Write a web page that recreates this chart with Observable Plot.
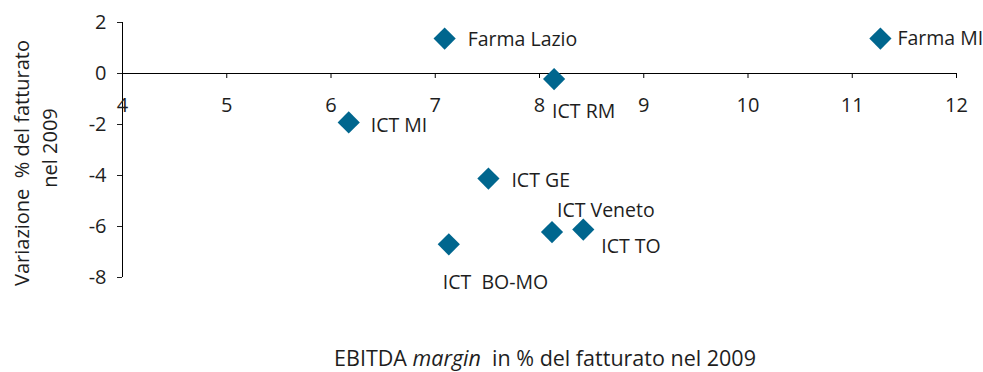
<!DOCTYPE html>
<html>
<head>
<meta charset="utf-8">
<script src="https://cdn.jsdelivr.net/npm/d3@7"></script>
<script src="https://cdn.jsdelivr.net/npm/@observablehq/plot@0.6"></script>
<style>
  html, body { margin: 0; padding: 0; background: #fff; }
  svg text { white-space: pre; }
</style>
</head>
<body>
<div id="chart"></div>
<script>
// ---- data ----
const names = ["Farma Lazio", "Farma MI", "ICT RM", "ICT MI", "ICT GE", "ICT Veneto", "ICT TO", "ICT  BO-MO"];
const ebitdaMargin = [7.09, 11.27, 8.14, 6.17, 7.51, 8.12, 8.42, 7.13];
const variazione = [1.37, 1.37, -0.22, -1.92, -4.12, -6.22, -6.12, -6.70];
const xTicks = [4, 5, 6, 7, 8, 9, 10, 11, 12];
const yTicks = [2, 0, -2, -4, -6, -8];
const xTitle = ["EBITDA ", "margin", "  in % del fatturato nel 2009"];
const yTitleLines = ["Variazione  % del fatturato", "nel 2009"];

// label placement (pixels offset from each point)
const labelDx = [23, 17, -2, 22, 23, 5, 18, -6];
const labelDy = [1.5, 0, 33, 3, 2, -21, 17, 38];

const W = 983, H = 372;
const mt = 22, mb = 95, ml = 122, mr = 27;
const FONT = "Open Sans";
const FS = 19.5;
const TICK_FS = 20;
const TITLE_FS = 21.5;
const COLOR = "#00668e";
const TEXT = "#1e1e1e";
const TICK = 5;

const data = names.map((n, i) => ({name: n, x: ebitdaMargin[i], y: variazione[i], dx: labelDx[i], dy: labelDy[i]}));
const yDomain = [-8, 2];
const tickData = -TICK * (yDomain[1] - yDomain[0]) / (H - mt - mb);

const labelMarks = data.map(d => Plot.text([d], {
  x: "x", y: "y", text: "name", dx: d.dx, dy: d.dy,
  textAnchor: "start", fill: TEXT, fontSize: FS
}));

const chart = Plot.plot({
  width: W, height: H,
  marginTop: mt, marginBottom: mb, marginLeft: ml, marginRight: mr,
  style: {fontFamily: FONT, fontSize: TICK_FS + "px", color: TEXT, background: "#fff"},
  x: {domain: [4, 12], axis: null},
  y: {domain: yDomain, ticks: yTicks, tickSize: TICK, tickPadding: 11, tickFormat: d => String(d).replace("−", "-"), label: null},
  marks: [
    Plot.ruleX([4], {y1: yDomain[0], y2: yDomain[1], stroke: "#000", strokeWidth: 1}),
    Plot.ruleY([0], {x1: 4, x2: 12, stroke: "#000", strokeWidth: 1}),
    Plot.ruleX(xTicks, {x: d => d, y1: 0, y2: tickData, stroke: "#000", strokeWidth: 1}),
    Plot.text(xTicks, {x: d => d, y: 0, text: d => String(d), dy: 32, fill: TEXT, fontSize: TICK_FS}),
    Plot.text([yTitleLines[0]], {frameAnchor: "left", textAnchor: "middle", dx: -100, dy: 13, rotate: -90, fill: TEXT, fontSize: 20}),
    Plot.text([yTitleLines[1]], {frameAnchor: "left", textAnchor: "middle", dx: -72, dy: -2, rotate: -90, fill: TEXT, fontSize: 20}),
    Plot.dot(data, {x: "x", y: "y", symbol: "diamond2", r: 10, fill: COLOR, stroke: "none"}),
    ...labelMarks
  ]
});

// x-axis title with italic word (real text)
const svg = d3.select(chart);
const t = svg.append("text")
  .attr("x", (ml + W - mr) / 2 + 6)
  .attr("y", H - 6)
  .attr("text-anchor", "middle")
  .attr("fill", TEXT)
  .style("font-family", FONT)
  .style("font-size", TITLE_FS + "px");
xTitle.forEach((s, i) => {
  t.append("tspan").text(s).style("font-style", i === 1 ? "italic" : "normal");
});

document.getElementById("chart").append(chart);
</script>
</body>
</html>
